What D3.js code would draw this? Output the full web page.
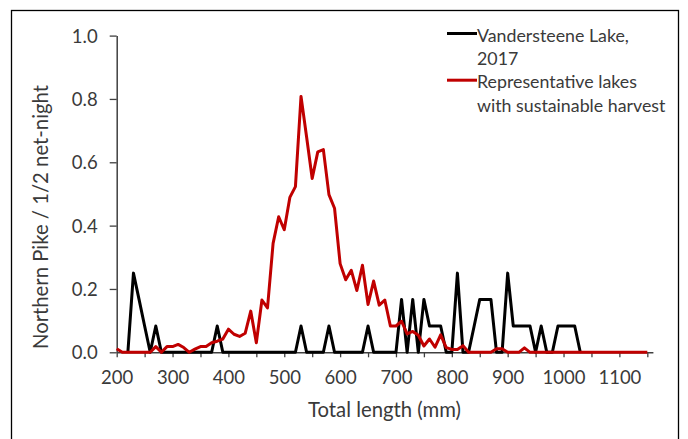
<!DOCTYPE html>
<html>
<head>
<meta charset="utf-8">
<script src="https://cdn.jsdelivr.net/npm/d3@7"></script>
<style>
  body { margin: 0; background: #fff; }
  svg text { font-family: Lato, "Open Sans", sans-serif; fill: #3a3a3a; }
</style>
</head>
<body>
<div id="chart"></div>
<script>
// length bins (mm), 10 mm wide
const lakeLengths = d3.range(220, 1031, 10);
const lakeValues = [
  0, 0.25, 0.167, 0.083, 0, 0.083, 0, 0, 0, 0,          // 220-310
  0, 0, 0, 0, 0, 0, 0.083, 0, 0, 0,                     // 320-410
  0, 0, 0, 0, 0, 0, 0, 0, 0, 0,                         // 420-510
  0, 0.083, 0, 0, 0, 0, 0.083, 0, 0, 0,                 // 520-610
  0, 0, 0, 0.083, 0, 0, 0, 0, 0, 0.167,                 // 620-710
  0, 0.167, 0, 0.167, 0.083, 0.083, 0.083, 0, 0, 0.25,  // 720-810
  0, 0, 0.083, 0.167, 0.167, 0.167, 0, 0, 0.25, 0.083,  // 820-910
  0.083, 0.083, 0.083, 0, 0.083, 0, 0, 0.083, 0.083, 0.083, // 920-1010
  0.083, 0,                                             // 1020-1030
];

const refLengths = d3.range(200, 1151, 10);
const refValues = [
  0.011, 0, 0, 0, 0, 0, 0, 0.018, 0, 0.018,             // 200-290
  0.018, 0.025, 0.015, 0, 0.01, 0.018, 0.018, 0.03, 0.035, 0.042, // 300-390
  0.073, 0.057, 0.05, 0.06, 0.13, 0.03, 0.165, 0.14, 0.344, 0.428, // 400-490
  0.387, 0.489, 0.523, 0.808, 0.68, 0.549, 0.633, 0.64, 0.498, 0.455, // 500-590
  0.28, 0.229, 0.259, 0.195, 0.275, 0.151, 0.225, 0.149, 0.165, 0.083, // 600-690
  0.083, 0.098, 0.058, 0.066, 0.054, 0.02, 0.042, 0.016, 0.055, 0.015, // 700-790
  0.009, 0.009, 0.021, 0, 0, 0, 0, 0, 0.011, 0.011,     // 800-890
  0, 0, 0, 0.014, 0, 0, 0, 0, 0, 0,                     // 900-990
  0, 0, 0, 0, 0, 0, 0, 0, 0, 0,                         // 1000-1090
  0, 0, 0, 0, 0, 0,                                     // 1100-1150
];

const seriesNames = ['Vandersteene Lake, 2017', 'Representative lakes with sustainable harvest'];
const legendLines = [['Vandersteene Lake,', '2017'], ['Representative lakes', 'with sustainable harvest']];
const seriesColors = ['#000000', '#c00000'];

const xTicks = d3.range(200, 1151, 50);
const yTicks = [0, 0.2, 0.4, 0.6, 0.8, 1.0];

class LengthFrequencyChart {
  constructor(containerId) {
    this.containerId = containerId;
    this.series = [
      { name: seriesNames[0], color: seriesColors[0], points: lakeLengths.map((l, i) => [l, lakeValues[i]]) },
      { name: seriesNames[1], color: seriesColors[1], points: refLengths.map((l, i) => [l, refValues[i]]) },
    ];
    this.width = 688;
    this.height = 439;
    this.init();
    this.update();
  }

  init() {
    this.svg = d3.select(`#${this.containerId}`)
      .append('svg')
      .attr('width', this.width)
      .attr('height', this.height);

    // outer chart frame
    this.svg.append('rect')
      .attr('x', 11.5).attr('y', 10.5)
      .attr('width', 667).attr('height', 440)
      .attr('fill', 'none')
      .attr('stroke', '#000')
      .attr('stroke-width', 1.3);

    this.x = d3.scaleLinear().domain([200, 1160]).range([116.7, 652.9]);
    this.y = d3.scaleLinear().domain([0, 1]).range([352.3, 35.6]);

    this.line = d3.line()
      .x((d) => this.x(d[0]))
      .y((d) => this.y(d[1]));
  }

  update() {
    const { svg, x, y } = this;

    const yAxis = svg.append('g')
      .attr('transform', `translate(${x.range()[0]},0)`)
      .call(d3.axisLeft(y).tickValues(yTicks).tickFormat(d3.format('.1f'))
        .tickSizeInner(7).tickSizeOuter(0).tickPadding(12));

    const xAxis = svg.append('g')
      .attr('transform', `translate(0,${y.range()[0]})`)
      .call(d3.axisBottom(x).tickValues(xTicks)
        .tickFormat((d) => (d % 100 === 0 ? d : ''))
        .tickSizeInner(5).tickSizeOuter(0).tickPadding(14));

    [xAxis, yAxis].forEach((g) => {
      g.select('.domain').attr('stroke', '#404040').attr('stroke-width', 1.5);
      g.selectAll('.tick line').attr('stroke', '#404040').attr('stroke-width', 1.3);
      g.selectAll('.tick text').attr('font-size', 18.5).attr('font-family', null).attr('fill', '#3a3a3a');
    });
    yAxis.selectAll('.tick text').attr('dy', '0.36em');

    svg.append('text')
      .attr('transform', 'translate(48,217) rotate(-90)')
      .attr('text-anchor', 'middle')
      .attr('font-size', 20.3)
      .text('Northern Pike / 1/2 net-night');

    svg.append('text')
      .attr('x', 384.5).attr('y', 417)
      .attr('text-anchor', 'middle')
      .attr('font-size', 20.3)
      .text('Total length (mm)');

    svg.selectAll('.series')
      .data(this.series)
      .enter().append('path')
      .attr('class', 'series')
      .attr('d', (d) => this.line(d.points))
      .attr('fill', 'none')
      .attr('stroke', (d) => d.color)
      .attr('stroke-width', 3)
      .attr('stroke-linejoin', 'round');

    const legend = svg.selectAll('.legend')
      .data(this.series)
      .enter().append('g')
      .attr('class', 'legend')
      .attr('transform', (d, i) => `translate(447,${33.5 + i * 46.7})`);

    legend.append('line')
      .attr('x1', 0).attr('x2', 30)
      .attr('stroke', (d) => d.color)
      .attr('stroke-width', 3);

    legend.append('text')
      .attr('x', 30)
      .attr('y', 8)
      .attr('font-size', 17.8)
      .selectAll('tspan')
      .data((d, i) => legendLines[i])
      .enter().append('tspan')
      .attr('x', 30)
      .attr('dy', (d, i) => (i === 0 ? 0 : 23.5))
      .text((d) => d);
  }
}

new LengthFrequencyChart('chart');
</script>
</body>
</html>
